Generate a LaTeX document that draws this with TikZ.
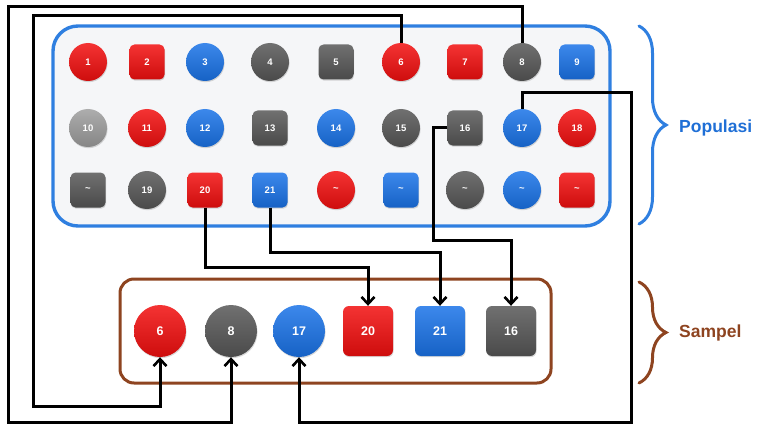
\documentclass[tikz,border=0pt]{standalone}
\usepackage{fontspec}
\setmainfont{Liberation Sans}
\usetikzlibrary{arrows.meta,decorations.pathreplacing,shadows}
\definecolor{cred}{HTML}{F20F0F}
\definecolor{cblue}{HTML}{1A73E8}
\definecolor{cgray}{HTML}{575757}
\definecolor{clgray}{HTML}{9E9E9E}
\definecolor{popblue}{HTML}{2F7FE0}
\definecolor{popfill}{HTML}{F5F6F8}
\definecolor{sambrown}{HTML}{8E4420}
\definecolor{poptext}{HTML}{1F6FD6}
\tikzset{
 item/.style={inner sep=0pt, text=white, font=\bfseries\fontsize{9.5}{9.5}\selectfont,
   drop shadow={opacity=0.3,shadow xshift=0.6pt,shadow yshift=-1.2pt}},
 glossy/.style={top color=#1!85!white, middle color=#1, bottom color=#1!85!black},
 pc/.style={item, circle, minimum size=38pt, glossy=#1},
 ps/.style={item, rectangle, rounded corners=5pt, minimum size=35pt, glossy=#1},
 sc/.style={item, circle, minimum size=52pt, glossy=#1, font=\bfseries\fontsize{12.5}{12.5}\selectfont},
 ss/.style={item, rectangle, rounded corners=6pt, minimum size=50pt, glossy=#1, font=\bfseries\fontsize{12.5}{12.5}\selectfont},
 conn/.style={line width=3pt, black, line join=miter},
 arr/.style={conn, -{Straight Barb[length=7pt,width=13pt,line width=2.6pt]}},
 bracestyle/.style={line width=3pt, line cap=round, decorate, decoration={brace, amplitude=27pt}},
 biglabel/.style={font=\bfseries\fontsize{17.5}{17.5}\selectfont, anchor=west, inner sep=0pt},
}
\begin{document}
\begin{tikzpicture}[x=1pt,y=-1pt]
\useasboundingbox (0,0) rectangle (768,433);
% boxes
\draw[line width=3.4pt, popblue, fill=popfill, rounded corners=25pt] (53,26) rectangle (610,226);
\draw[line width=3pt, sambrown, fill=white, rounded corners=14pt] (120,279) rectangle (551,383);
% population row 1
\node[pc=cred]   (p1) at (88,62)  {1};
\node[ps=cred]   (p2) at (147,62) {2};
\node[pc=cblue]  (p3) at (205,62) {3};
\node[pc=cgray]  (p4) at (270,62) {4};
\node[ps=cgray]  (p5) at (336,62) {5};
\node[pc=cred]   (p6) at (401,62) {6};
\node[ps=cred]   (p7) at (465,62) {7};
\node[pc=cgray]  (p8) at (522,62) {8};
\node[ps=cblue]  (p9) at (577,62) {9};
% row 2
\node[pc=clgray] (p10) at (88,128)  {10};
\node[pc=cred]   (p11) at (147,128) {11};
\node[pc=cblue]  (p12) at (205,128) {12};
\node[ps=cgray]  (p13) at (270,128) {13};
\node[pc=cblue]  (p14) at (336,128) {14};
\node[pc=cgray]  (p15) at (401,128) {15};
\node[ps=cgray]  (p16) at (465,128) {16};
\node[pc=cblue]  (p17) at (522,128) {17};
\node[pc=cred]   (p18) at (577,128) {18};
% row 3
\node[ps=cgray]  (q1) at (88,190)  {\textasciitilde};
\node[pc=cgray]  (p19) at (147,190) {19};
\node[ps=cred]   (p20) at (205,190) {20};
\node[ps=cblue]  (p21) at (270,190) {21};
\node[pc=cred]   (q5) at (336,190) {\textasciitilde};
\node[ps=cblue]  (q6) at (401,190) {\textasciitilde};
\node[pc=cgray]  (q7) at (465,190) {\textasciitilde};
\node[pc=cblue]  (q8) at (522,190) {\textasciitilde};
\node[ps=cred]   (q9) at (577,190) {\textasciitilde};
% sample
\node[sc=cred]   (s6)  at (160,331) {6};
\node[sc=cgray]  (s8)  at (231,331) {8};
\node[sc=cblue]  (s17) at (299,331) {17};
\node[ss=cred]   (s20) at (368,331) {20};
\node[ss=cblue]  (s21) at (440,331) {21};
\node[ss=cgray]  (s16) at (511,331) {16};
% connectors
\draw[arr] (p6.north) |- (33,16) |- (s6.south |- 0,406) -- (s6.south);
\draw[arr] (p8.north) |- (8,7) |- (s8.south |- 0,422) -- (s8.south);
\draw[arr] (p17.north) |- (631,93) |- (s17.south |- 0,422) -- (s17.south);
\draw[arr] (p16.west) -| (433,240) -| (s16.north);
\draw[arr] (p20.south) -- (p20.south |- 0,267) -| (s20.north);
\draw[arr] (p21.south) -- (p21.south |- 0,252) -| (s21.north);
% braces and labels
\draw[bracestyle, popblue] (639,26) -- (639,224);
\node[biglabel, text=poptext] (poplabel) at (679,128) {Populasi};
\draw[bracestyle, sambrown] (639,282) -- (639,383);
\node[biglabel, text=sambrown] (samlabel) at (679,333) {Sampel};
\end{tikzpicture}
\end{document}
